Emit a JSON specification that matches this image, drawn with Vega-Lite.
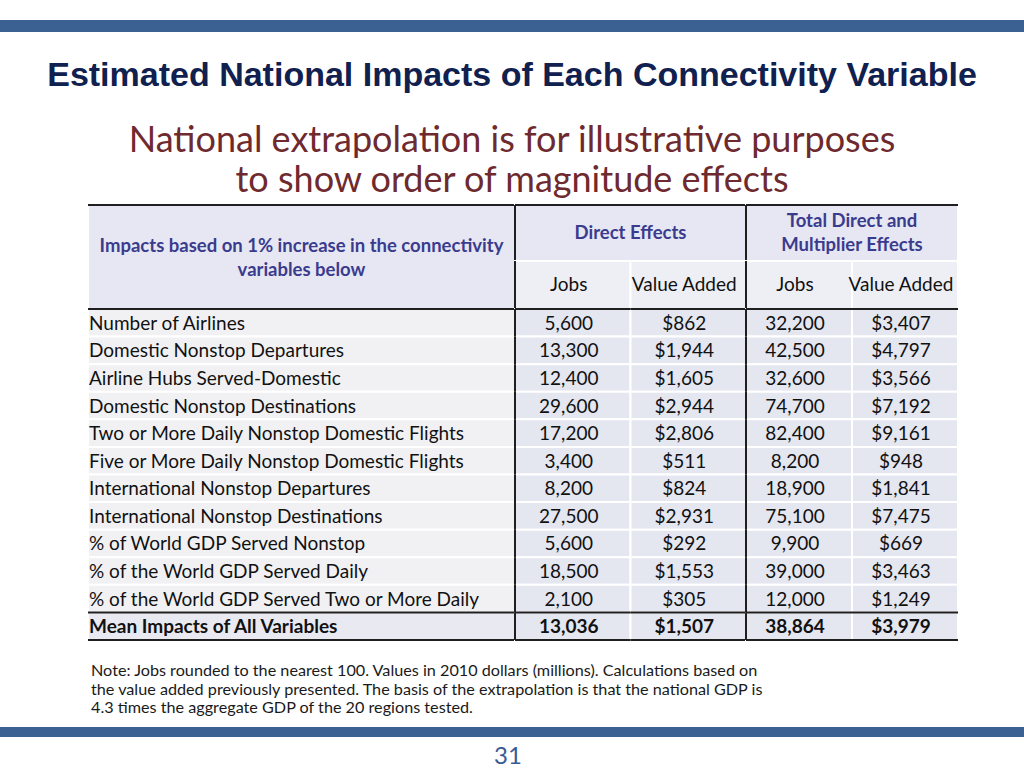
{
  "$schema": "https://vega.github.io/schema/vega-lite/v6.json",
  "width": 1024,
  "height": 768,
  "autosize": {"type": "fit", "contains": "padding"},
  "padding": 0,
  "background": "white",
  "config": {"view": {"stroke": null}, "text": {"font": "Lato"}},
  "datasets": {
    "rows": [
      {"row": "r01", "variable": "Number of Airlines", "kind": "variable", "dj": 5600, "dva": 862, "tj": 32200, "tva": 3407},
      {"row": "r02", "variable": "Domestic Nonstop Departures", "kind": "variable", "dj": 13300, "dva": 1944, "tj": 42500, "tva": 4797},
      {"row": "r03", "variable": "Airline Hubs Served-Domestic", "kind": "variable", "dj": 12400, "dva": 1605, "tj": 32600, "tva": 3566},
      {"row": "r04", "variable": "Domestic Nonstop Destinations", "kind": "variable", "dj": 29600, "dva": 2944, "tj": 74700, "tva": 7192},
      {"row": "r05", "variable": "Two or More Daily Nonstop Domestic Flights", "kind": "variable", "dj": 17200, "dva": 2806, "tj": 82400, "tva": 9161},
      {"row": "r06", "variable": "Five or More Daily Nonstop Domestic Flights", "kind": "variable", "dj": 3400, "dva": 511, "tj": 8200, "tva": 948},
      {"row": "r07", "variable": "International Nonstop Departures", "kind": "variable", "dj": 8200, "dva": 824, "tj": 18900, "tva": 1841},
      {"row": "r08", "variable": "International Nonstop Destinations", "kind": "variable", "dj": 27500, "dva": 2931, "tj": 75100, "tva": 7475},
      {"row": "r09", "variable": "% of World GDP Served Nonstop", "kind": "variable", "dj": 5600, "dva": 292, "tj": 9900, "tva": 669},
      {"row": "r10", "variable": "% of the World GDP Served Daily", "kind": "variable", "dj": 18500, "dva": 1553, "tj": 39000, "tva": 3463},
      {"row": "r11", "variable": "% of the World GDP Served Two or More Daily", "kind": "variable", "dj": 2100, "dva": 305, "tj": 12000, "tva": 1249},
      {"row": "r12", "variable": "Mean Impacts of All Variables", "kind": "mean", "dj": 13036, "dva": 1507, "tj": 38864, "tva": 3979}
    ],
    "subheads": [
      {"col": "dj", "group": "direct", "head": "Jobs"},
      {"col": "dva", "group": "direct", "head": "Value Added"},
      {"col": "tj", "group": "total", "head": "Jobs"},
      {"col": "tva", "group": "total", "head": "Value Added"}
    ]
  },
  "resolve": {"scale": {"x": "independent", "y": "independent"}},
  "layer": [
    {
      "data": {"values": [{"band": "top"}]},
      "mark": {"type": "rect", "color": "#3b6193"},
      "encoding": {
        "x": {"field": "band", "type": "nominal", "scale": {"type": "band", "range": [0, 1024], "paddingInner": 0, "paddingOuter": 0}, "axis": null},
        "y": {"field": "band", "type": "nominal", "scale": {"type": "band", "range": [20, 32], "paddingInner": 0, "paddingOuter": 0}, "axis": null}
      }
    },
    {
      "data": {"values": [{"band": "bottom"}]},
      "mark": {"type": "rect", "color": "#3b6193"},
      "encoding": {
        "x": {"field": "band", "type": "nominal", "scale": {"type": "band", "range": [0, 1024], "paddingInner": 0, "paddingOuter": 0}, "axis": null},
        "y": {"field": "band", "type": "nominal", "scale": {"type": "band", "range": [727, 737], "paddingInner": 0, "paddingOuter": 0}, "axis": null}
      }
    },
    {
      "data": {"values": [{"title": "Estimated National Impacts of Each Connectivity Variable"}]},
      "mark": {"type": "text", "font": "Liberation Sans", "fontWeight": "bold", "fontSize": 34, "color": "#10204f", "baseline": "middle"},
      "encoding": {
        "text": {"field": "title"},
        "x": {"field": "title", "type": "nominal", "scale": {"type": "band", "range": [0, 1024], "paddingInner": 0, "paddingOuter": 0}, "axis": null},
        "y": {"field": "title", "type": "nominal", "scale": {"type": "band", "range": [60, 92], "paddingInner": 0, "paddingOuter": 0}, "axis": null}
      }
    },
    {
      "data": {"values": [
        {"line": "1", "text": "National extrapolation is for illustrative purposes"},
        {"line": "2", "text": "to show order of magnitude effects"}
      ]},
      "mark": {"type": "text", "font": "Lato", "fontSize": 36, "color": "#6e2a2e", "baseline": "middle"},
      "encoding": {
        "text": {"field": "text"},
        "x": {"datum": "slide", "type": "nominal", "scale": {"type": "band", "domain": ["slide"], "range": [0, 1024], "paddingInner": 0, "paddingOuter": 0}, "axis": null},
        "y": {"field": "line", "type": "nominal", "scale": {"type": "band", "domain": ["1", "2"], "range": [121, 201], "paddingInner": 0, "paddingOuter": 0}, "axis": null}
      }
    },
    {
      "data": {"values": [{"head": "Impacts based on 1% increase in the connectivity\nvariables below"}]},
      "encoding": {
        "x": {"field": "head", "type": "nominal", "scale": {"type": "band", "range": [88, 515], "paddingInner": 0, "paddingOuter": 0}, "axis": null},
        "y": {"field": "head", "type": "nominal", "scale": {"type": "band", "range": [205, 309], "paddingInner": 0, "paddingOuter": 0}, "axis": null}
      },
      "layer": [
        {"mark": {"type": "rect", "fill": "#e6e7f2", "stroke": "white", "strokeWidth": 2}},
        {"mark": {"type": "text", "lineBreak": "\n", "lineHeight": 24, "dy": -11, "fontWeight": "bold", "fontSize": 18.5, "color": "#3b3b8e", "baseline": "middle"}, "encoding": {"text": {"field": "head"}}},
        {"mark": {"type": "rule", "color": "#1f1f1f", "strokeWidth": 2}, "encoding": {
          "x": {"field": "head", "type": "nominal", "bandPosition": 0, "scale": {"type": "band", "range": [88, 515], "paddingInner": 0, "paddingOuter": 0}, "axis": null},
          "x2": {"field": "head", "bandPosition": 1},
          "y": {"field": "head", "type": "nominal", "bandPosition": 0, "scale": {"type": "band", "range": [205, 309], "paddingInner": 0, "paddingOuter": 0}, "axis": null}
        }}
      ]
    },
    {
      "data": {"values": [{"head": "Direct Effects"}]},
      "encoding": {
        "x": {"field": "head", "type": "nominal", "scale": {"type": "band", "range": [515, 746], "paddingInner": 0, "paddingOuter": 0}, "axis": null},
        "y": {"field": "head", "type": "nominal", "scale": {"type": "band", "range": [205, 261], "paddingInner": 0, "paddingOuter": 0}, "axis": null}
      },
      "layer": [
        {"mark": {"type": "rect", "fill": "#e6e7f2", "stroke": "white", "strokeWidth": 2}},
        {"mark": {"type": "text", "fontWeight": "bold", "fontSize": 18.5, "color": "#3b3b8e", "baseline": "middle"}, "encoding": {"text": {"field": "head"}}},
        {"mark": {"type": "rule", "color": "#1f1f1f", "strokeWidth": 2}, "encoding": {
          "x": {"field": "head", "type": "nominal", "bandPosition": 0, "scale": {"type": "band", "range": [515, 746], "paddingInner": 0, "paddingOuter": 0}, "axis": null},
          "x2": {"field": "head", "bandPosition": 1},
          "y": {"field": "head", "type": "nominal", "bandPosition": 0, "scale": {"type": "band", "range": [205, 261], "paddingInner": 0, "paddingOuter": 0}, "axis": null}
        }},
        {"mark": {"type": "rule", "color": "#1f1f1f", "strokeWidth": 2}, "encoding": {
          "x": {"field": "head", "type": "nominal", "bandPosition": 0, "scale": {"type": "band", "range": [515, 746], "paddingInner": 0, "paddingOuter": 0}, "axis": null},
          "y": {"field": "head", "type": "nominal", "bandPosition": 0, "scale": {"type": "band", "range": [205, 261], "paddingInner": 0, "paddingOuter": 0}, "axis": null},
          "y2": {"field": "head", "bandPosition": 1}
        }}
      ]
    },
    {
      "data": {"values": [{"head": "Total Direct and\nMultiplier Effects"}]},
      "encoding": {
        "x": {"field": "head", "type": "nominal", "scale": {"type": "band", "range": [746, 958], "paddingInner": 0, "paddingOuter": 0}, "axis": null},
        "y": {"field": "head", "type": "nominal", "scale": {"type": "band", "range": [205, 261], "paddingInner": 0, "paddingOuter": 0}, "axis": null}
      },
      "layer": [
        {"mark": {"type": "rect", "fill": "#e6e7f2", "stroke": "white", "strokeWidth": 2}},
        {"mark": {"type": "text", "lineBreak": "\n", "lineHeight": 24, "dy": -12, "fontWeight": "bold", "fontSize": 18.5, "color": "#3b3b8e", "baseline": "middle"}, "encoding": {"text": {"field": "head"}}},
        {"mark": {"type": "rule", "color": "#1f1f1f", "strokeWidth": 2}, "encoding": {
          "x": {"field": "head", "type": "nominal", "bandPosition": 0, "scale": {"type": "band", "range": [746, 958], "paddingInner": 0, "paddingOuter": 0}, "axis": null},
          "x2": {"field": "head", "bandPosition": 1},
          "y": {"field": "head", "type": "nominal", "bandPosition": 0, "scale": {"type": "band", "range": [205, 261], "paddingInner": 0, "paddingOuter": 0}, "axis": null}
        }},
        {"mark": {"type": "rule", "color": "#1f1f1f", "strokeWidth": 2}, "encoding": {
          "x": {"field": "head", "type": "nominal", "bandPosition": 0, "scale": {"type": "band", "range": [746, 958], "paddingInner": 0, "paddingOuter": 0}, "axis": null},
          "y": {"field": "head", "type": "nominal", "bandPosition": 0, "scale": {"type": "band", "range": [205, 261], "paddingInner": 0, "paddingOuter": 0}, "axis": null},
          "y2": {"field": "head", "bandPosition": 1}
        }}
      ]
    },
    {
      "data": {"name": "subheads"},
      "transform": [{"filter": "datum.group === 'direct'"}],
      "encoding": {
        "x": {"field": "col", "type": "nominal", "scale": {"type": "band", "domain": ["dj", "dva"], "range": [515, 746], "paddingInner": 0, "paddingOuter": 0}, "axis": null},
        "y": {"field": "group", "type": "nominal", "scale": {"type": "band", "domain": ["direct"], "range": [261, 309], "paddingInner": 0, "paddingOuter": 0}, "axis": null}
      },
      "layer": [
        {"mark": {"type": "rect", "fill": "#eeeff4", "stroke": "white", "strokeWidth": 2}},
        {"mark": {"type": "text", "fontSize": 19, "dx": -4, "color": "#111111", "baseline": "middle"}, "encoding": {"text": {"field": "head"}}},
        {"transform": [{"filter": "datum.col === 'dj'"}], "mark": {"type": "rule", "color": "#1f1f1f", "strokeWidth": 2}, "encoding": {
          "x": {"field": "col", "type": "nominal", "bandPosition": 0, "scale": {"type": "band", "domain": ["dj", "dva"], "range": [515, 746], "paddingInner": 0, "paddingOuter": 0}, "axis": null},
          "y": {"field": "group", "type": "nominal", "bandPosition": 0, "scale": {"type": "band", "domain": ["direct"], "range": [261, 309], "paddingInner": 0, "paddingOuter": 0}, "axis": null},
          "y2": {"field": "group", "bandPosition": 1}
        }}
      ]
    },
    {
      "data": {"name": "subheads"},
      "transform": [{"filter": "datum.group === 'total'"}],
      "encoding": {
        "x": {"field": "col", "type": "nominal", "scale": {"type": "band", "domain": ["tj", "tva"], "range": [746, 958], "paddingInner": 0, "paddingOuter": 0}, "axis": null},
        "y": {"field": "group", "type": "nominal", "scale": {"type": "band", "domain": ["total"], "range": [261, 309], "paddingInner": 0, "paddingOuter": 0}, "axis": null}
      },
      "layer": [
        {"mark": {"type": "rect", "fill": "#eeeff4", "stroke": "white", "strokeWidth": 2}},
        {"mark": {"type": "text", "fontSize": 19, "dx": -4, "color": "#111111", "baseline": "middle"}, "encoding": {"text": {"field": "head"}}},
        {"transform": [{"filter": "datum.col === 'tj'"}], "mark": {"type": "rule", "color": "#1f1f1f", "strokeWidth": 2}, "encoding": {
          "x": {"field": "col", "type": "nominal", "bandPosition": 0, "scale": {"type": "band", "domain": ["tj", "tva"], "range": [746, 958], "paddingInner": 0, "paddingOuter": 0}, "axis": null},
          "y": {"field": "group", "type": "nominal", "bandPosition": 0, "scale": {"type": "band", "domain": ["total"], "range": [261, 309], "paddingInner": 0, "paddingOuter": 0}, "axis": null},
          "y2": {"field": "group", "bandPosition": 1}
        }}
      ]
    },
    {
      "data": {"name": "rows"},
      "encoding": {
        "x": {"datum": 0, "type": "quantitative", "scale": {"domain": [0, 1], "range": [88, 515]}, "axis": null},
        "y": {"field": "row", "type": "nominal", "scale": {"type": "band", "domain": ["r01","r02","r03","r04","r05","r06","r07","r08","r09","r10","r11","r12"], "range": [309, 640], "paddingInner": 0, "paddingOuter": 0}, "axis": null}
      },
      "layer": [
        {"mark": {"type": "rect", "stroke": "white", "strokeWidth": 2}, "encoding": {
          "x2": {"datum": 1},
          "color": {"condition": {"test": "datum.kind === 'mean'", "value": "#e9eaf1"}, "value": "#f1f1f4"}
        }},
        {"mark": {"type": "text", "align": "left", "baseline": "middle", "dx": 1, "dy": 1, "fontSize": 19, "color": "#111111", "fontWeight": {"expr": "datum.kind === 'mean' ? 'bold' : 'normal'"}}, "encoding": {"text": {"field": "variable"}}},
        {"transform": [{"filter": "datum.row === 'r01' || datum.row === 'r12'"}], "mark": {"type": "rule", "color": "#1f1f1f", "strokeWidth": 2}, "encoding": {
          "x2": {"datum": 1},
          "y": {"field": "row", "type": "nominal", "bandPosition": 0, "scale": {"type": "band", "domain": ["r01","r02","r03","r04","r05","r06","r07","r08","r09","r10","r11","r12"], "range": [309, 640], "paddingInner": 0, "paddingOuter": 0}, "axis": null}
        }},
        {"transform": [{"filter": "datum.row === 'r12'"}], "mark": {"type": "rule", "color": "#1f1f1f", "strokeWidth": 2}, "encoding": {
          "x2": {"datum": 1},
          "y": {"field": "row", "type": "nominal", "bandPosition": 1, "scale": {"type": "band", "domain": ["r01","r02","r03","r04","r05","r06","r07","r08","r09","r10","r11","r12"], "range": [309, 640], "paddingInner": 0, "paddingOuter": 0}, "axis": null}
        }}
      ]
    },
    {
      "data": {"name": "rows"},
      "transform": [{"fold": ["dj", "dva"], "as": ["col", "value"]}],
      "encoding": {
        "x": {"field": "col", "type": "nominal", "scale": {"type": "band", "domain": ["dj", "dva"], "range": [515, 746], "paddingInner": 0, "paddingOuter": 0}, "axis": null},
        "y": {"field": "row", "type": "nominal", "scale": {"type": "band", "domain": ["r01","r02","r03","r04","r05","r06","r07","r08","r09","r10","r11","r12"], "range": [309, 640], "paddingInner": 0, "paddingOuter": 0}, "axis": null}
      },
      "layer": [
        {"mark": {"type": "rect", "fill": "#e4e6f0", "stroke": "white", "strokeWidth": 2}},
        {"transform": [{"filter": "datum.col === 'dj'"}], "mark": {"type": "text", "baseline": "middle", "dx": -4, "dy": 1, "fontSize": 19, "color": "#111111", "fontWeight": {"expr": "datum.kind === 'mean' ? 'bold' : 'normal'"}}, "encoding": {"text": {"field": "value", "type": "quantitative", "format": ","}}},
        {"transform": [{"filter": "datum.col === 'dva'"}], "mark": {"type": "text", "baseline": "middle", "dx": -4, "dy": 1, "fontSize": 19, "color": "#111111", "fontWeight": {"expr": "datum.kind === 'mean' ? 'bold' : 'normal'"}}, "encoding": {"text": {"field": "value", "type": "quantitative", "format": "$,"}}},
        {"transform": [{"filter": "datum.row === 'r01' || datum.row === 'r12'"}], "mark": {"type": "rule", "color": "#1f1f1f", "strokeWidth": 2}, "encoding": {
          "x": {"field": "col", "type": "nominal", "bandPosition": 0, "scale": {"type": "band", "domain": ["dj", "dva"], "range": [515, 746], "paddingInner": 0, "paddingOuter": 0}, "axis": null},
          "x2": {"field": "col", "bandPosition": 1},
          "y": {"field": "row", "type": "nominal", "bandPosition": 0, "scale": {"type": "band", "domain": ["r01","r02","r03","r04","r05","r06","r07","r08","r09","r10","r11","r12"], "range": [309, 640], "paddingInner": 0, "paddingOuter": 0}, "axis": null}
        }},
        {"transform": [{"filter": "datum.row === 'r12'"}], "mark": {"type": "rule", "color": "#1f1f1f", "strokeWidth": 2}, "encoding": {
          "x": {"field": "col", "type": "nominal", "bandPosition": 0, "scale": {"type": "band", "domain": ["dj", "dva"], "range": [515, 746], "paddingInner": 0, "paddingOuter": 0}, "axis": null},
          "x2": {"field": "col", "bandPosition": 1},
          "y": {"field": "row", "type": "nominal", "bandPosition": 1, "scale": {"type": "band", "domain": ["r01","r02","r03","r04","r05","r06","r07","r08","r09","r10","r11","r12"], "range": [309, 640], "paddingInner": 0, "paddingOuter": 0}, "axis": null}
        }},
        {"transform": [{"filter": "datum.col === 'dj'"}], "mark": {"type": "rule", "color": "#1f1f1f", "strokeWidth": 2}, "encoding": {
          "x": {"field": "col", "type": "nominal", "bandPosition": 0, "scale": {"type": "band", "domain": ["dj", "dva"], "range": [515, 746], "paddingInner": 0, "paddingOuter": 0}, "axis": null},
          "y": {"field": "row", "type": "nominal", "bandPosition": 0, "scale": {"type": "band", "domain": ["r01","r02","r03","r04","r05","r06","r07","r08","r09","r10","r11","r12"], "range": [309, 640], "paddingInner": 0, "paddingOuter": 0}, "axis": null},
          "y2": {"field": "row", "bandPosition": 1}
        }}
      ]
    },
    {
      "data": {"name": "rows"},
      "transform": [{"fold": ["tj", "tva"], "as": ["col", "value"]}],
      "encoding": {
        "x": {"field": "col", "type": "nominal", "scale": {"type": "band", "domain": ["tj", "tva"], "range": [746, 958], "paddingInner": 0, "paddingOuter": 0}, "axis": null},
        "y": {"field": "row", "type": "nominal", "scale": {"type": "band", "domain": ["r01","r02","r03","r04","r05","r06","r07","r08","r09","r10","r11","r12"], "range": [309, 640], "paddingInner": 0, "paddingOuter": 0}, "axis": null}
      },
      "layer": [
        {"mark": {"type": "rect", "fill": "#e4e6f0", "stroke": "white", "strokeWidth": 2}},
        {"transform": [{"filter": "datum.col === 'tj'"}], "mark": {"type": "text", "baseline": "middle", "dx": -4, "dy": 1, "fontSize": 19, "color": "#111111", "fontWeight": {"expr": "datum.kind === 'mean' ? 'bold' : 'normal'"}}, "encoding": {"text": {"field": "value", "type": "quantitative", "format": ","}}},
        {"transform": [{"filter": "datum.col === 'tva'"}], "mark": {"type": "text", "baseline": "middle", "dx": -4, "dy": 1, "fontSize": 19, "color": "#111111", "fontWeight": {"expr": "datum.kind === 'mean' ? 'bold' : 'normal'"}}, "encoding": {"text": {"field": "value", "type": "quantitative", "format": "$,"}}},
        {"transform": [{"filter": "datum.row === 'r01' || datum.row === 'r12'"}], "mark": {"type": "rule", "color": "#1f1f1f", "strokeWidth": 2}, "encoding": {
          "x": {"field": "col", "type": "nominal", "bandPosition": 0, "scale": {"type": "band", "domain": ["tj", "tva"], "range": [746, 958], "paddingInner": 0, "paddingOuter": 0}, "axis": null},
          "x2": {"field": "col", "bandPosition": 1},
          "y": {"field": "row", "type": "nominal", "bandPosition": 0, "scale": {"type": "band", "domain": ["r01","r02","r03","r04","r05","r06","r07","r08","r09","r10","r11","r12"], "range": [309, 640], "paddingInner": 0, "paddingOuter": 0}, "axis": null}
        }},
        {"transform": [{"filter": "datum.row === 'r12'"}], "mark": {"type": "rule", "color": "#1f1f1f", "strokeWidth": 2}, "encoding": {
          "x": {"field": "col", "type": "nominal", "bandPosition": 0, "scale": {"type": "band", "domain": ["tj", "tva"], "range": [746, 958], "paddingInner": 0, "paddingOuter": 0}, "axis": null},
          "x2": {"field": "col", "bandPosition": 1},
          "y": {"field": "row", "type": "nominal", "bandPosition": 1, "scale": {"type": "band", "domain": ["r01","r02","r03","r04","r05","r06","r07","r08","r09","r10","r11","r12"], "range": [309, 640], "paddingInner": 0, "paddingOuter": 0}, "axis": null}
        }},
        {"transform": [{"filter": "datum.col === 'tj'"}], "mark": {"type": "rule", "color": "#1f1f1f", "strokeWidth": 2}, "encoding": {
          "x": {"field": "col", "type": "nominal", "bandPosition": 0, "scale": {"type": "band", "domain": ["tj", "tva"], "range": [746, 958], "paddingInner": 0, "paddingOuter": 0}, "axis": null},
          "y": {"field": "row", "type": "nominal", "bandPosition": 0, "scale": {"type": "band", "domain": ["r01","r02","r03","r04","r05","r06","r07","r08","r09","r10","r11","r12"], "range": [309, 640], "paddingInner": 0, "paddingOuter": 0}, "axis": null},
          "y2": {"field": "row", "bandPosition": 1}
        }}
      ]
    },
    {
      "data": {"values": [
        {"line": "1", "text": "Note: Jobs rounded to the nearest 100.  Values in 2010 dollars (millions). Calculations based on"},
        {"line": "2", "text": "the value added previously presented.  The basis of the extrapolation is that the national GDP is"},
        {"line": "3", "text": "4.3 times the aggregate GDP of the 20 regions tested."}
      ]},
      "mark": {"type": "text", "align": "left", "baseline": "middle", "fontSize": 16.2, "color": "#1a1a1a"},
      "encoding": {
        "text": {"field": "text"},
        "x": {"datum": 0, "type": "quantitative", "scale": {"domain": [0, 1], "range": [91, 800]}, "axis": null},
        "y": {"field": "line", "type": "nominal", "scale": {"type": "band", "domain": ["1", "2", "3"], "range": [662, 717], "paddingInner": 0, "paddingOuter": 0}, "axis": null}
      }
    },
    {
      "data": {"values": [{"page": "31"}]},
      "mark": {"type": "text", "baseline": "middle", "fontSize": 24, "color": "#3b5b93"},
      "encoding": {
        "text": {"field": "page"},
        "x": {"field": "page", "type": "nominal", "scale": {"type": "band", "range": [0, 1016], "paddingInner": 0, "paddingOuter": 0}, "axis": null},
        "y": {"field": "page", "type": "nominal", "scale": {"type": "band", "range": [745, 769], "paddingInner": 0, "paddingOuter": 0}, "axis": null}
      }
    }
  ]
}
